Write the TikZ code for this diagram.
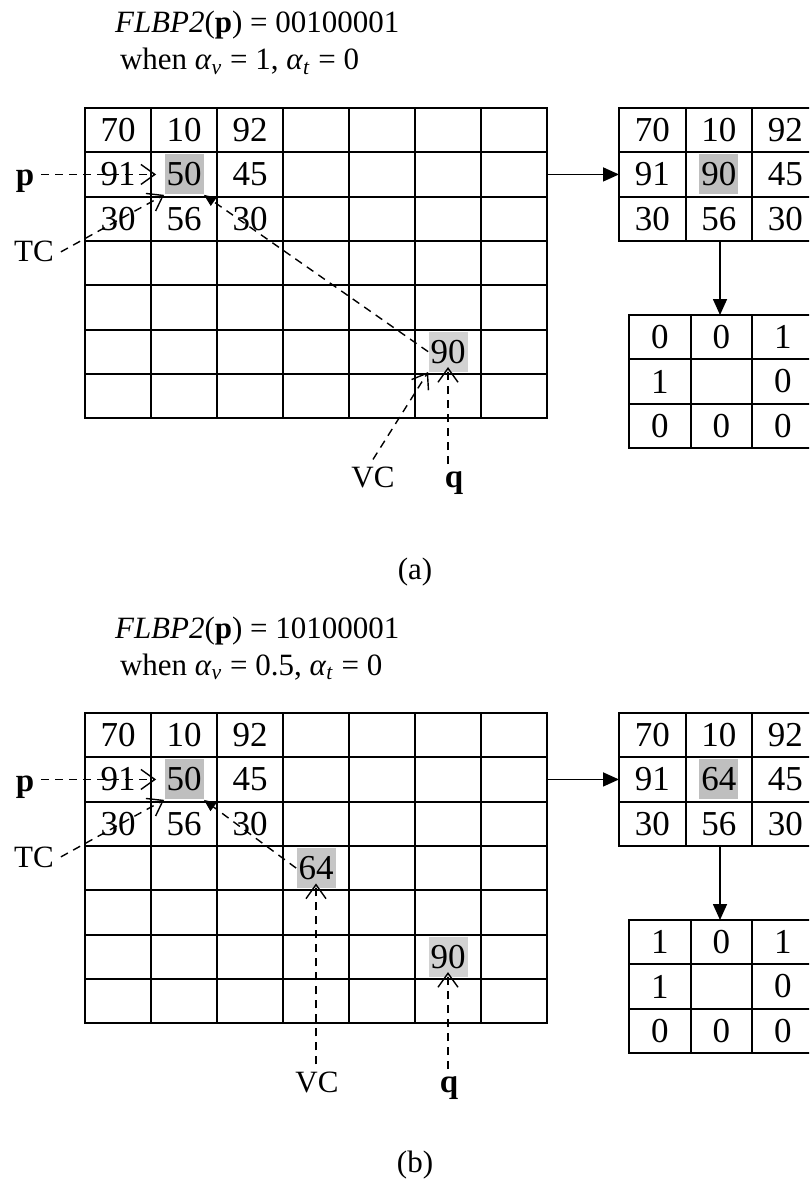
\documentclass[tikz,border=0pt]{standalone}
\usepackage{fontspec}
\setmainfont{Liberation Serif}
\usetikzlibrary{arrows.meta}

\begin{document}
\begin{tikzpicture}[x=0.5pt, y=-0.5pt, line join=round,
    gridline/.style={line width=1pt, line cap=rect},
    num/.style={font=\fontsize{17.5}{20}\selectfont, inner sep=0pt},
    hl/.style={num, fill=gray!50, inner xsep=1pt, minimum height=20pt},
    hllight/.style={hl, fill=gray!35},
    lbl/.style={font=\fontsize{15.5}{18}\selectfont},
    lblbold/.style={font=\fontsize{16.5}{18}\selectfont\bfseries},
    dasharr/.style={line width=0.7pt, dash pattern=on 4pt off 3pt,
        -{Straight Barb[length=7pt, width=10pt, line width=0.7pt]}},
    dashfill/.style={line width=0.7pt, dash pattern=on 4pt off 3pt,
        -{Triangle[length=6pt, width=5pt]}},
    solidarr/.style={line width=0.8pt, -{Triangle[length=8pt, width=7pt]}}]

    \useasboundingbox (0,0) rectangle (809,1182);
    \clip (0,0) rectangle (809,1182);

    % ==========================================
    % BOTH PANELS: TITLE, GRID, WINDOW, CODE
    % ==========================================

    \foreach \pn/\dy/\code/\av/\ctr/\bit/\vcx/\qx in
        {a/0/00100001/1/90/0/373/454, b/605/10100001/0.5/64/1/317/449} {
    \begin{scope}[shift={(0,\dy)}]

        % title lines
        \node[lbl, anchor=base west] (\pn-title) at (108,33)
            {\textit{FLBP2}(\textbf{p}) = \code};
        \node[lbl, anchor=base west] (\pn-when) at (113,70)
            {when \textit{α}\textsubscript{\textit{v}} = \av, \textit{α}\textsubscript{\textit{t}} = 0};

        % 7x7 image grid
        \foreach \i in {0,...,7} {
            \draw[gridline] ({85+66*\i},108) -- ({85+66*\i},418.1);
            \draw[gridline] (85,{108+44.3*\i}) -- (547,{108+44.3*\i});
        }
        % 3x3 window and its code, both cut by the right edge
        \foreach \i in {0,...,3} {
            \draw[gridline] ({619+66.5*\i},108) -- ({619+66.5*\i},240.9);
            \draw[gridline] (619,{108+44.3*\i}) -- (818.5,{108+44.3*\i});
            \draw[gridline] ({629+61.5*\i},315) -- ({629+61.5*\i},447.9);
            \draw[gridline] (629,{315+44.3*\i}) -- (813.5,{315+44.3*\i});
        }

        % neighbourhood of p
        \node[num] (\pn-g00) at (118,130.15) {70};
        \node[num] (\pn-g01) at (184,130.15) {10};
        \node[num] (\pn-g02) at (250,130.15) {92};
        \node[num] (\pn-g10) at (118,174.45) {91};
        \node[hl]  (\pn-g11) at (184,174.45) {50};
        \node[num] (\pn-g12) at (250,174.45) {45};
        \node[num] (\pn-g20) at (118,218.75) {30};
        \node[num] (\pn-g21) at (184,218.75) {56};
        \node[num] (\pn-g22) at (250,218.75) {30};
        \node[hllight] (\pn-g55) at (448,351.65) {90};

        % window after replacing the centre
        \node[num] (\pn-w00) at (652.25,130.15) {70};
        \node[num] (\pn-w01) at (718.75,130.15) {10};
        \node[num] (\pn-w02) at (785.25,130.15) {92};
        \node[num] (\pn-w10) at (652.25,174.45) {91};
        \node[hl]  (\pn-w11) at (718.75,174.45) {\ctr};
        \node[num] (\pn-w12) at (785.25,174.45) {45};
        \node[num] (\pn-w20) at (652.25,218.75) {30};
        \node[num] (\pn-w21) at (718.75,218.75) {56};
        \node[num] (\pn-w22) at (785.25,218.75) {30};

        % binary code
        \node[num] (\pn-b00) at (659.75,337.15) {\bit};
        \node[num] (\pn-b01) at (721.25,337.15) {0};
        \node[num] (\pn-b02) at (782.75,337.15) {1};
        \node[num] (\pn-b10) at (659.75,381.45) {1};
        \node[num] (\pn-b12) at (782.75,381.45) {0};
        \node[num] (\pn-b20) at (659.75,425.75) {0};
        \node[num] (\pn-b21) at (721.25,425.75) {0};
        \node[num] (\pn-b22) at (782.75,425.75) {0};

        \node[lblbold, anchor=base] (\pn-p)  at (25,186) {p};
        \node[lbl, anchor=base]     (\pn-tc) at (34,262) {TC};
        \node[lbl, anchor=base]     (\pn-vc) at (\vcx,487) {VC};
        \node[lblbold, anchor=base] (\pn-q)  at (\qx,487) {q};

        \coordinate (\pn-gridE) at (547,174.45);
        \coordinate (\pn-winW)  at (619,174.45);
        \coordinate (\pn-winS)  at (720,240.9);
        \coordinate (\pn-codeN) at (720,315);

        \draw[solidarr] (\pn-gridE) -- (\pn-winW);
        \draw[solidarr] (\pn-winS) -- (\pn-codeN);
        \draw[dasharr, shorten >=4pt] (\pn-g11.west -| \pn-p.east) -- (\pn-g11.west);
        \draw[dasharr] (\pn-tc.east) -- (\pn-g11.south west);
        \draw[dasharr, shorten >=-2.5pt] (\pn-g55.south |- \pn-q.north) -- (\pn-g55.south);
    \end{scope}
    }

    % ==========================================
    % PANEL (a)
    % ==========================================

    \draw[dashfill] (a-g55.west) -- (a-g11.south east);
    \draw[dasharr] (a-vc.north) -- (a-g55.south west);

    % ==========================================
    % PANEL (b)
    % ==========================================

    \begin{scope}[shift={(0,605)}]
        \node[hl, fill=gray!45] (b-g33) at (316,263.05) {64};
    \end{scope}
    \draw[dashfill] (b-g33.west) -- (b-g11.south east);
    \draw[dasharr, shorten >=-2.5pt] (b-g33.south |- b-vc.north) -- (b-g33.south);

    \node[lbl] (capa) at (415,572) {(a)};
    \node[lbl] (capb) at (415,1165) {(b)};

\end{tikzpicture}
\end{document}
